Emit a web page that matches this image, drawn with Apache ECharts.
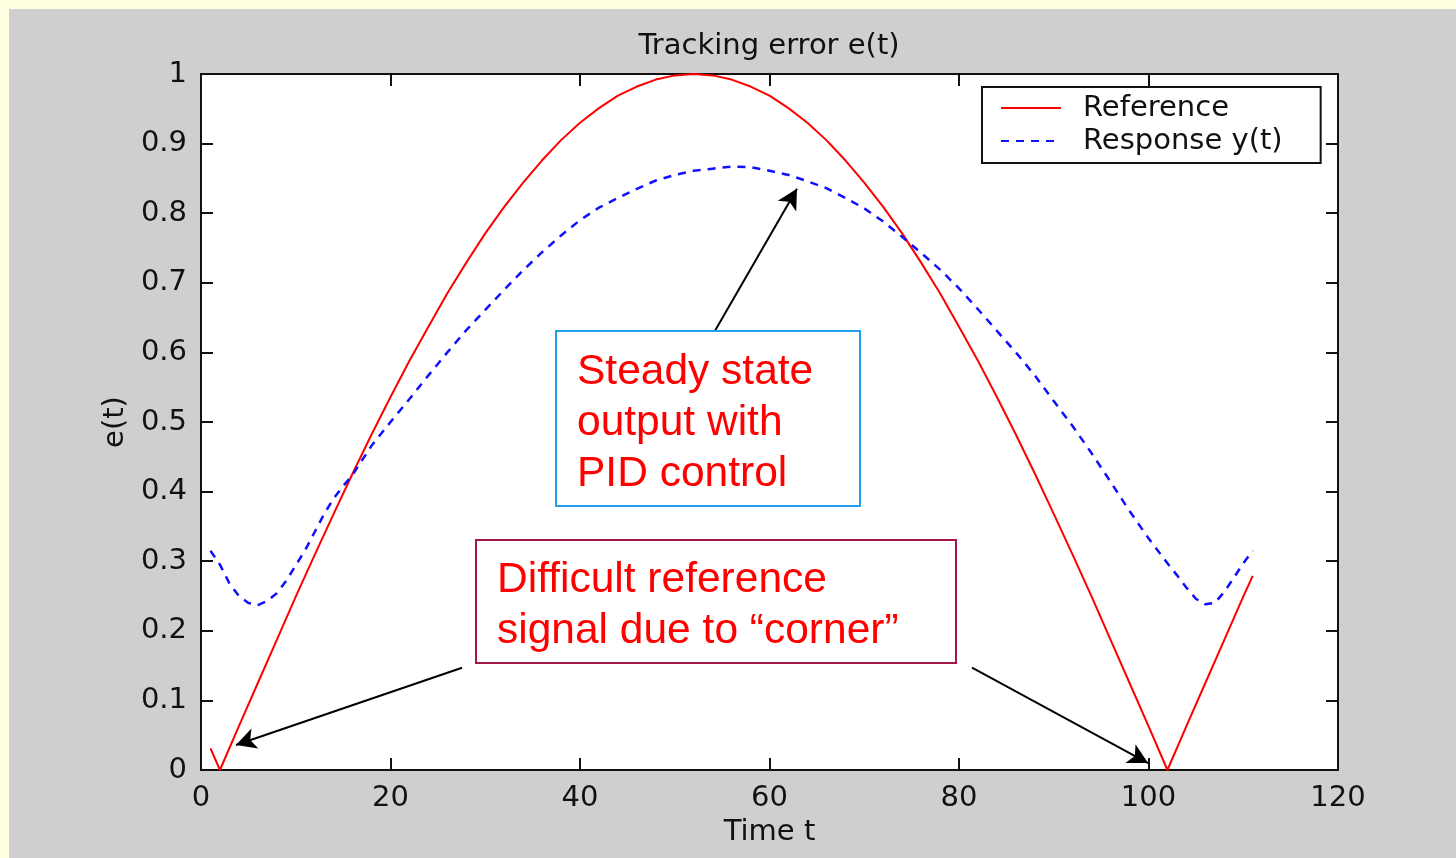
<!DOCTYPE html>
<html>
<head>
<meta charset="utf-8">
<script src="https://cdn.jsdelivr.net/npm/echarts@6/dist/echarts.min.js"></script>
<style>
  html, body { margin: 0; padding: 0; background: #ffffe1; }
  #chart { position: absolute; left: 9px; top: 9px; width: 1447px; height: 849px; background: #cfcfcf; }
</style>
</head>
<body>
<div id="chart"></div>
<script>
// reference signal (red)
const refT = [1, 2, 4, 6, 8, 10, 12, 14, 16, 18, 20, 22, 24, 26, 28, 30, 32, 34, 36, 38, 40,
  42, 44, 46, 48, 50, 52, 54, 56, 58, 60, 62, 64, 66, 68, 70, 72, 74, 76, 78, 80,
  82, 84, 86, 88, 90, 92, 94, 96, 98, 100, 102, 104, 106, 108, 110, 111];
const refE = [0.031, 0, 0.063, 0.125, 0.187, 0.249, 0.309, 0.368, 0.426, 0.482, 0.536, 0.588, 0.637, 0.685, 0.729, 0.771, 0.809, 0.844, 0.876, 0.905, 0.930,
  0.951, 0.969, 0.982, 0.992, 0.998, 1.000, 0.998, 0.992, 0.982, 0.969, 0.951, 0.930, 0.905, 0.876, 0.844, 0.809, 0.771, 0.729, 0.685, 0.637,
  0.588, 0.536, 0.482, 0.426, 0.368, 0.309, 0.249, 0.187, 0.125, 0.063, 0, 0.063, 0.125, 0.187, 0.249, 0.279];

// response y(t) (blue dashed)
const respT = [1, 2, 3, 4, 5, 6, 7, 8, 9, 10, 11, 12, 13, 14, 15, 16, 18, 20, 22, 24, 26, 28, 30,
  32, 34, 36, 38, 40, 42, 44, 46, 48, 50, 52, 54, 56, 58, 60, 62, 64, 66, 68, 70,
  72, 74, 76, 78, 80, 82, 84, 86, 88, 90, 92, 94, 96, 98, 100, 102, 103, 104, 105,
  106, 107, 108, 109, 110, 111];
const respY = [0.315, 0.295, 0.268, 0.250, 0.240, 0.237, 0.243, 0.254, 0.272, 0.294, 0.316, 0.342, 0.368, 0.390, 0.408, 0.424, 0.466, 0.500, 0.533, 0.567, 0.600, 0.632, 0.661,
  0.690, 0.718, 0.744, 0.768, 0.790, 0.808, 0.822, 0.835, 0.847, 0.855, 0.861, 0.864, 0.867, 0.866, 0.861, 0.855, 0.846, 0.836, 0.822, 0.807,
  0.788, 0.766, 0.743, 0.719, 0.692, 0.662, 0.631, 0.600, 0.567, 0.530, 0.494, 0.455, 0.414, 0.372, 0.333, 0.297, 0.280, 0.262, 0.246,
  0.238, 0.240, 0.256, 0.276, 0.297, 0.315];

const xTicks = [0, 20, 40, 60, 80, 100, 120];
const yTicks = [0, 0.1, 0.2, 0.3, 0.4, 0.5, 0.6, 0.7, 0.8, 0.9, 1];

const font = 'DejaVu Sans';
const ink = '#111';

const chart = echarts.init(document.getElementById('chart'));

const tick = { show: true, inside: true, length: 12, lineStyle: { color: ink, width: 2 } };
const line = { show: true, onZero: false, lineStyle: { color: ink, width: 2 } };

function axis(extra) {
  return Object.assign({
    type: 'value',
    axisLine: line,
    axisTick: tick,
    splitLine: { show: false }
  }, extra);
}

chart.setOption({
  animation: false,
  title: {
    text: 'Tracking error e(t)',
    left: 755, top: 18, textAlign: 'center',
    textStyle: { fontFamily: font, fontSize: 29, fontWeight: 'normal', color: ink }
  },
  grid: { left: 192, top: 65, right: 118, bottom: 88, show: true, backgroundColor: '#fff', borderWidth: 0 },
  legend: {
    orient: 'vertical', left: 973, top: 78,
    itemWidth: 60, itemHeight: 14, itemGap: 3,
    padding: [6, 38, 7, 18],
    borderColor: ink, borderWidth: 2, backgroundColor: '#fff',
    itemStyle: { opacity: 0 },
    textStyle: { fontFamily: font, fontSize: 29, color: ink, lineHeight: 30, padding: [0, 0, 0, 17] }
  },
  xAxis: [
    axis({
      min: xTicks[0], max: xTicks[xTicks.length - 1], interval: 20,
      name: 'Time t', nameLocation: 'middle', nameGap: 47,
      nameTextStyle: { fontFamily: font, fontSize: 29, color: ink },
      axisLabel: { fontFamily: font, fontSize: 29, color: ink, margin: 14 }
    }),
    axis({ position: 'top', min: 0, max: 120, interval: 20, axisLabel: { show: false } })
  ],
  yAxis: [
    axis({
      min: yTicks[0], max: yTicks[yTicks.length - 1], interval: 0.1,
      name: 'e(t)', nameLocation: 'middle', nameGap: 66,
      nameTextStyle: { fontFamily: font, fontSize: 29, color: ink },
      axisLabel: { fontFamily: font, fontSize: 29, color: ink, margin: 14 }
    }),
    axis({ position: 'right', min: 0, max: 1, interval: 0.1, axisLabel: { show: false } })
  ],
  series: [
    {
      name: 'Reference', type: 'line', symbol: 'none',
      data: refT.map((t, i) => [t, refE[i]]),
      lineStyle: { color: '#ff0000', width: 2 },
      itemStyle: { color: '#ff0000' },
      markLine: {
        silent: true, symbol: ['none', 'arrow'], symbolSize: [16, 20],
        label: { show: false },
        lineStyle: { color: '#000', width: 2, type: 'solid' },
        data: [
          [{ coord: [54.25, 0.631] }, { coord: [62.9, 0.835] }],
          [{ coord: [27.55, 0.147] }, { coord: [3.69, 0.036] }],
          [{ coord: [81.37, 0.147] }, { coord: [99.95, 0.010] }]
        ]
      }
    },
    {
      name: 'Response y(t)', type: 'line', symbol: 'none',
      data: respT.map((t, i) => [t, respY[i]]),
      lineStyle: { color: '#1010ff', width: 2.5, type: [8, 7] },
      itemStyle: { color: '#1010ff' }
    }
  ],
  graphic: [
    {
      type: 'rect', z: 100,
      shape: { x: 547, y: 322, width: 304, height: 175 },
      style: { fill: '#fff', stroke: '#22a0ee', lineWidth: 2 }
    },
    {
      type: 'text', z: 101, x: 568, y: 338,
      style: {
        text: 'Steady state\noutput with\nPID control',
        fontFamily: 'Liberation Sans', fontSize: 42.5, lineHeight: 51,
        fill: '#ff0000', align: 'left', verticalAlign: 'top'
      }
    },
    {
      type: 'rect', z: 100,
      shape: { x: 467, y: 531, width: 480, height: 123 },
      style: { fill: '#fff', stroke: '#a3164b', lineWidth: 2 }
    },
    {
      type: 'text', z: 101, x: 488, y: 546,
      style: {
        text: 'Difficult reference\nsignal due to \u201ccorner\u201d',
        fontFamily: 'Liberation Sans', fontSize: 42.5, lineHeight: 51,
        fill: '#ff0000', align: 'left', verticalAlign: 'top'
      }
    }
  ]
});
</script>
</body>
</html>
